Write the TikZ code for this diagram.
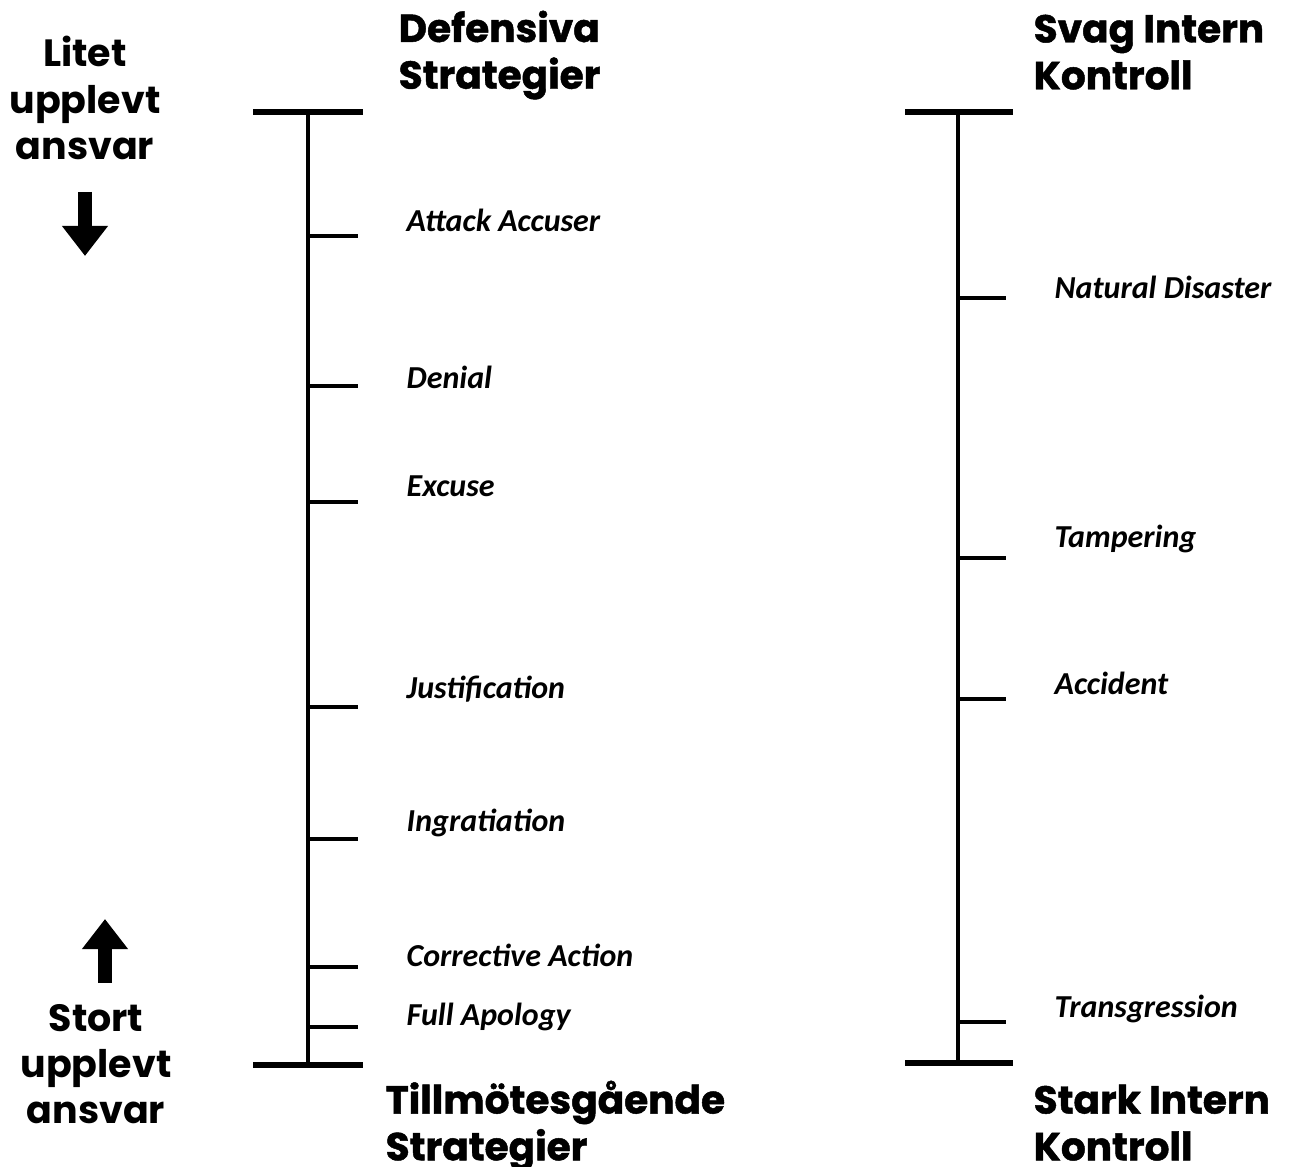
\documentclass[tikz,border=0pt]{standalone}
\usepackage{fontspec}
\usepackage{tikz}
\usetikzlibrary{arrows.meta, positioning}
\newfontfamily\headfont{Poppins}[BoldFeatures={FakeBold=1.2}]
\newfontfamily\sidefont{Poppins}
\newfontfamily\itemfont{Carlito}

\begin{document}
\begin{tikzpicture}[x=0.01cm, y=-0.01cm,
  axisline/.style={line width=1.15pt},
  endbar/.style={line width=1.75pt},
  tickmark/.style={line width=1pt},
  item/.style={anchor=west, inner sep=0pt, font=\itemfont\fontsize{9.1}{10}\selectfont\bfseries\itshape},
  head/.style={anchor=north west, align=left, inner sep=0pt, font=\headfont\fontsize{11.1}{13.3}\selectfont\bfseries},
  side/.style={align=center, inner sep=0pt, font=\sidefont\fontsize{10.8}{13.1}\selectfont\bfseries},
  bigarrow/.style={line width=0.14cm, -{Triangle[length=0.3cm, width=0.44cm]}},
]
\useasboundingbox (0,0) rectangle (1308,1167);

% left scale
\coordinate (ltop) at (308,112);
\coordinate (lbot) at (308,1065);
\coordinate (ltopl) at (253,112);
\coordinate (ltopr) at (363,112);
\coordinate (lbotl) at (253,1065);
\coordinate (lbotr) at (363,1065);
\draw[axisline] (ltop) -- (lbot);
\draw[endbar] (ltopl) -- (ltopr);
\draw[endbar] (lbotl) -- (lbotr);
\foreach \ty/\ly/\txt [count=\i] in {236/220/Attack Accuser, 386/377/Denial, 502/486/Excuse,
    707/689/Justification, 839/823/Ingratiation, 967/955/Corrective Action, 1027/1017/Full Apology} {
  \coordinate (lt\i) at (308,\ty);
  \coordinate (lte\i) at (358,\ty);
  \draw[tickmark] (lt\i) -- (lte\i);
  \node[item] (litem\i) at (406,\ly) {\txt};
}

% right scale
\coordinate (rtop) at (958,112);
\coordinate (rbot) at (958,1063);
\coordinate (rtopl) at (905,112);
\coordinate (rtopr) at (1013,112);
\coordinate (rbotl) at (905,1063);
\coordinate (rbotr) at (1013,1063);
\draw[axisline] (rtop) -- (rbot);
\draw[endbar] (rtopl) -- (rtopr);
\draw[endbar] (rbotl) -- (rbotr);
\foreach \ty/\ly/\txt [count=\i] in {298/287/Natural Disaster, 558/539/Tampering,
    699/683/Accident, 1022/1009/Transgression} {
  \coordinate (rt\i) at (958,\ty);
  \coordinate (rte\i) at (1006,\ty);
  \draw[tickmark] (rt\i) -- (rte\i);
  \node[item] (ritem\i) at (1054,\ly) {\txt};
}

% headings
\node[head] (deftitle) at (398,10) {Defensiva\\Strategier};
\node[head] (svagtitle) at (1033,14) {Svag Intern\\Kontroll};
\node[head] (tilltitle) at (385,1080) {Tillmötesgående\\Strategier};
\node[head] (starktitle) at (1033,1084) {Stark Intern\\Kontroll};

% side labels
\node[side] (litet) at (85,98) {Litet\\upplevt\\ansvar};
\node[side] (stort) at (96,1064) {Stort\\upplevt\\ansvar};
\coordinate (downs) at (85,192);
\coordinate (downe) at (85,256);
\coordinate (ups) at (105,983);
\coordinate (upe) at (105,919);
\draw[bigarrow] (downs) -- (downe);
\draw[bigarrow] (ups) -- (upe);
\end{tikzpicture}
\end{document}
